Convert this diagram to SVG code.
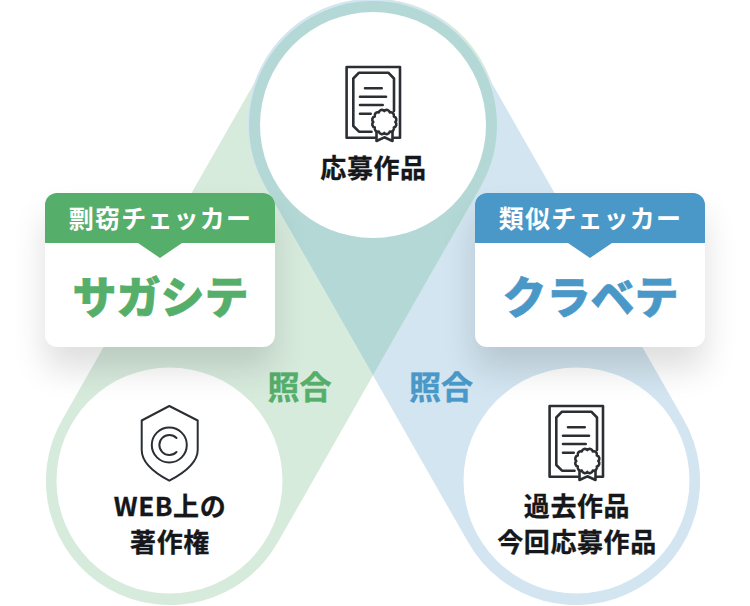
<svg xmlns="http://www.w3.org/2000/svg" xmlns:xlink="http://www.w3.org/1999/xlink" width="750" height="606" viewBox="0 0 750 606">
<style>
text{font-family:"Noto Sans CJK JP","Noto Sans",sans-serif;font-weight:700;text-anchor:middle}
.lb{font-size:26px;letter-spacing:.6px;fill:#15171a;stroke:#15171a;stroke-width:.3px}
.hd{font-size:25px;letter-spacing:1.2px;fill:#fff}
.ti{font-size:44px;font-weight:900;stroke-width:.6px}
.ma{font-size:32px;stroke-width:.4px}
.ic{fill:none;stroke:#2b2f33;stroke-width:2.6;stroke-linecap:round;stroke-linejoin:round}
.g{fill:#55ae69;stroke:#55ae69}.b{fill:#4a98c8;stroke:#4a98c8}
.hb{stroke:none}
</style>
<defs>
<filter id="sh" x="-40%" y="-50%" width="180%" height="220%"><feGaussianBlur stdDeviation="17"/></filter>
<g id="doc" class="ic">
<path d="M375 137.700H346.600V67H400V137.700H393"/>
<path d="M371.500 131.700H359L353.300 126V78.500L359 72.700H388.300L394 78.500V111"/>
<path d="M365 88.300H381.700M360 96.700H386M360 105H382.700M360 113.700H370.700"/>
<path d="M376.500 132V141L384.300 137.300L392.500 141V132"/>
<path fill="#fff" d="M395.300 122A3.200 3.200 0 0 1 393.830 127.500A3.200 3.200 0 0 1 389.800 131.530A3.200 3.200 0 0 1 384.300 133A3.200 3.200 0 0 1 378.800 131.530A3.200 3.200 0 0 1 374.770 127.500A3.200 3.200 0 0 1 373.300 122A3.200 3.200 0 0 1 374.770 116.500A3.200 3.200 0 0 1 378.800 112.470A3.200 3.200 0 0 1 384.300 111A3.200 3.200 0 0 1 389.800 112.470A3.200 3.200 0 0 1 393.830 116.500A3.200 3.200 0 0 1 395.300 122Z"/>
</g>
</defs>
<g id="connectors">
<path id="band-green" fill="#d7ebdd" d="M265.300 63.600A124 124 0 1 1 480.700 186.400L277.700 542.600A124 124 0 1 1 62.300 419.400Z"/>
<path id="band-blue" fill="#d2e5f0" d="M480.700 63.600A124 124 0 1 0 265.300 186.400L468.300 542.600A124 124 0 1 0 683.700 419.400Z"/>
<path id="band-overlap" fill="#b3d8d5" d="M373 1A124 124 0 0 1 480.700 186.400L373 375L265.300 186.400A124 124 0 0 1 373 1Z"/>
</g>
<g id="node-source">
<circle cx="373" cy="125" r="113" fill="#fff"/>
<use xlink:href="#doc" href="#doc"/>
<text class="lb" x="373.500" y="178">応募作品</text>
</g>
<g id="node-web">
<circle cx="169.500" cy="480.500" r="113" fill="#fff"/>
<g class="ic" style="stroke-width:2">
<path d="M169.300 406L197.700 420.500V450C197.700 462 184 473 169.300 480.700C154.600 473 141.700 462 141.700 450V420.500Z"/>
<circle cx="169.300" cy="445" r="17.500"/>
<path d="M176.500 438A10 10 0 1 0 176.500 452"/>
</g>
<text class="lb" x="170" y="516">WEB上の</text>
<text class="lb" x="170" y="552">著作権</text>
</g>
<g id="node-past">
<circle cx="576.500" cy="480.500" r="113" fill="#fff"/>
<use xlink:href="#doc" href="#doc" x="203" y="339"/>
<text class="lb" x="577" y="516">過去作品</text>
<text class="lb" x="577" y="552">今回応募作品</text>
</g>
<g id="label-match-green"><text class="ma g" x="299.500" y="399">照合</text></g>
<g id="label-match-blue"><text class="ma b" x="441" y="399">照合</text></g>
<g id="node-sagashite">
<rect x="45" y="215" width="230" height="154" rx="12" fill="#000" opacity=".13" filter="url(#sh)"/>
<rect x="45" y="193" width="230" height="154" rx="12" fill="#fff"/>
<path class="g hb" d="M45 243V205A12 12 0 0 1 57 193H263A12 12 0 0 1 275 205V243H182L160 258L138 243Z"/>
<text class="hd" x="160.500" y="228">剽窃チェッカー</text>
<text class="ti g" x="160.500" y="314">サガシテ</text>
</g>
<g id="node-kurabete">
<rect x="475" y="215" width="230" height="154" rx="12" fill="#000" opacity=".13" filter="url(#sh)"/>
<rect x="475" y="193" width="230" height="154" rx="12" fill="#fff"/>
<path class="b hb" d="M475 243V205A12 12 0 0 1 487 193H693A12 12 0 0 1 705 205V243H612L590 258L568 243Z"/>
<text class="hd" x="590.500" y="228">類似チェッカー</text>
<text class="ti b" x="590.500" y="314">クラベテ</text>
</g>
</svg>
